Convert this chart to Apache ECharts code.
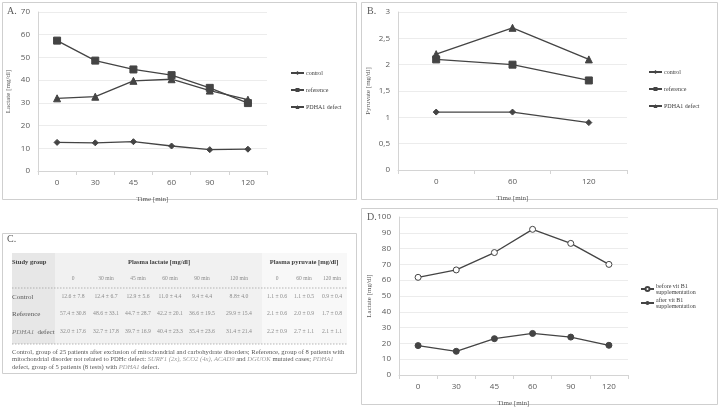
<!DOCTYPE html>
<html><head><meta charset="utf-8">
<script src="https://cdn.jsdelivr.net/npm/echarts@6/dist/echarts.min.js"></script>
<style>html,body{margin:0;padding:0;background:#fff}#c{width:720px;height:408px}</style>
</head><body><div id="c"></div>
<script>
// ---- data ----
var timesA = ['0','30','45','60','90','120'];
var lacControl = [12.6, 12.4, 12.9, 11.0, 9.4, 9.6];
var lacReference = [57.4, 48.6, 44.7, 42.2, 36.6, 29.9];
var lacPDHA1 = [32.0, 32.7, 39.7, 40.4, 35.4, 31.4];

var timesB = ['0','60','120'];
var pyrControl = [1.1, 1.1, 0.9];
var pyrReference = [2.1, 2.0, 1.7];
var pyrPDHA1 = [2.2, 2.7, 2.1];

var timesD = ['0','30','45','60','90','120'];
var lacBeforeB1 = [61.8, 66.5, 77.5, 92.2, 83.3, 70.0];
var lacAfterB1 = [18.6, 15.0, 23.0, 26.3, 24.0, 18.8];

var tableGroups = ['Control', 'Reference', 'PDHA1 defect'];
var tableLacCols = ['0', '30 min', '45 min', '60 min', '90 min', '120 min'];
var tablePyrCols = ['0', '60 min', '120 min'];
var tableControl = ['12.6 ± 7.8','12.4 ± 6.7','12.9 ± 5.6','11.0 ± 4.4','9.4 ± 4.4','8.8± 4.0','1.1 ± 0.6','1.1 ± 0.5','0.9 ± 0.4'];
var tableReference = ['57.4 ± 30.8','48.6 ± 33.1','44.7 ± 28.7','42.2 ± 20.1','36.6 ± 19.5','29.9 ± 15.4','2.1 ± 0.6','2.0 ± 0.9','1.7 ± 0.8'];
var tablePDHA1 = ['32.0 ± 17.6','32.7 ± 17.8','39.7 ± 16.9','40.4 ± 23.3','35.4 ± 23.6','31.4 ± 21.4','2.2 ± 0.9','2.7 ± 1.1','2.1 ± 1.1'];

// ---- styles ----
var SERIF = 'Liberation Serif';
var SANS = 'Open Sans';
var LINE = '#444444';
var GRID_LINE = '#ececec';
var AXIS_LINE = '#d4d4d4';

function xAxis(gi, cats) {
  return {
    type: 'category', gridIndex: gi, data: cats, boundaryGap: true,
    name: 'Time [min]', nameLocation: 'middle', nameGap: 25,
    nameTextStyle: {fontFamily: SERIF, fontSize: 7, color: '#595959'},
    axisLine: {lineStyle: {color: AXIS_LINE}},
    axisTick: {show: true, length: 4, lineStyle: {color: AXIS_LINE}},
    axisLabel: {fontFamily: SANS, fontSize: 8, color: '#595959', margin: 8}
  };
}
function yAxis(gi, max, interval, name, fmt) {
  return {
    type: 'value', gridIndex: gi, min: 0, max: max, interval: interval,
    name: name, nameLocation: 'middle', nameGap: 26, nameRotate: 90,
    nameTextStyle: {fontFamily: SERIF, fontSize: 7, color: '#595959'},
    axisLine: {show: true, lineStyle: {color: AXIS_LINE}},
    axisTick: {show: false},
    splitLine: {lineStyle: {color: GRID_LINE}},
    axisLabel: {fontFamily: SANS, fontSize: 8, color: '#595959', margin: 8, formatter: fmt}
  };
}
function line(name, gi, data, symbol, size, extra) {
  var s = {
    name: name, type: 'line', xAxisIndex: gi, yAxisIndex: gi, data: data,
    symbol: symbol, symbolSize: size, showSymbol: true,
    lineStyle: {color: LINE, width: 1.3},
    itemStyle: {color: LINE, borderColor: LINE},
    animation: false
  };
  if (extra) Object.assign(s, extra);
  return s;
}
function legend(names, left, top, gap) {
  return {
    data: names, orient: 'vertical', left: left, top: top, itemGap: gap,
    itemWidth: 13, itemHeight: 5, selectedMode: false,
    textStyle: {fontFamily: SERIF, fontSize: 6, color: '#404040', padding: [0,0,0,-3]},
    padding: 0
  };
}

// ---- table graphics ----
var graphics = [];
function box(x, y, w, h) {
  graphics.push({type: 'rect', shape: {x: x, y: y, width: w, height: h}, style: {fill: null, stroke: '#cfcfcf', lineWidth: 1}, z: 0});
}
function txt(x, y, s, opt) {
  var st = Object.assign({text: s, x: x, y: y, fontFamily: SERIF, fontSize: 6, fill: '#7f7f7f', align: 'center', verticalAlign: 'middle'}, opt || {});
  graphics.push({type: 'text', style: st, z: 5});
}
box(2.5, 2.5, 354, 197);
box(361.5, 2.5, 356, 197);
box(361.5, 208.5, 356, 196);
box(2.5, 233.5, 354, 140);
txt(7, 11, 'A.', {fontSize: 10, align: 'left', fill: '#595959'});
txt(367, 11, 'B.', {fontSize: 10, align: 'left', fill: '#595959'});
txt(367, 217, 'D.', {fontSize: 10, align: 'left', fill: '#595959'});
txt(7, 239, 'C.', {fontSize: 10, align: 'left', fill: '#595959'});

// table backgrounds
graphics.push({type: 'rect', shape: {x: 12, y: 253, width: 43, height: 91}, style: {fill: '#e7e7e7'}, z: 1});
graphics.push({type: 'rect', shape: {x: 55, y: 253, width: 207, height: 91}, style: {fill: '#f1f1f1'}, z: 1});
graphics.push({type: 'rect', shape: {x: 262, y: 253, width: 85, height: 91}, style: {fill: '#f8f8f8'}, z: 1});
graphics.push({type: 'line', shape: {x1: 12, y1: 288, x2: 347, y2: 288}, style: {stroke: '#9a9a9a', lineWidth: 0.7, lineDash: [1.5, 1.5]}, z: 3});
graphics.push({type: 'line', shape: {x1: 12, y1: 344, x2: 347, y2: 344}, style: {stroke: '#9a9a9a', lineWidth: 0.7, lineDash: [1.5, 1.5]}, z: 3});

var colX = [73, 106, 138, 170, 202, 239, 277, 304, 332];
txt(12, 262, 'Study group', {align: 'left', fontWeight: 'bold', fontSize: 6.5, fill: '#404040'});
txt(159, 262, 'Plasma lactate [mg/dl]', {fontWeight: 'bold', fontSize: 6.5, fill: '#404040'});
txt(304, 262, 'Plasma pyruvate [mg/dl]', {fontWeight: 'bold', fontSize: 6.5, fill: '#404040'});
var hdr = tableLacCols.concat(tablePyrCols);
hdr.forEach(function (h, i) { txt(colX[i], 279, h, {fontSize: 5.5, fill: '#8c8c8c'}); });
var rows = [tableControl, tableReference, tablePDHA1];
var rowY = [297, 314, 332];
rows.forEach(function (r, ri) {
  if (ri === 2) {
    graphics.push({type: 'text', z: 5, style: {x: 12, y: rowY[ri], verticalAlign: 'middle', align: 'left',
      text: '{i|PDHA1} {n|defect}',
      rich: {i: {fontFamily: SERIF, fontStyle: 'italic', fontSize: 7, fill: '#7f7f7f'}, n: {fontFamily: SERIF, fontSize: 7, fill: '#595959'}}}});
  } else {
    txt(12, rowY[ri], tableGroups[ri], {align: 'left', fontSize: 7, fill: '#595959'});
  }
  r.forEach(function (v, ci) { txt(colX[ci], rowY[ri], v, {fontSize: 5.7, fill: '#8c8c8c'}); });
});
var rich = {n: {fontFamily: SERIF, fontSize: 6.6, fill: '#595959'}, i: {fontFamily: SERIF, fontStyle: 'italic', fontSize: 6.6, fill: '#9a9a9a'}};
var notes = [
  '{n|Control, group of 25 patients after exclusion of mitochondrial and carbohydrate disorders; Reference, group of 8 patients with}',
  '{n|mitochondrial disorder not related to PDHc defect: }{i|SURF1 (2x), SCO2 (4x), ACAD9}{n| and }{i|DGUOK}{n| mutated cases; }{i|PDHA1}',
  '{n|defect, group of 5 patients (8 tests) with }{i|PDHA1}{n| defect.}'
];
var noteY = [352, 359.5, 367];
notes.forEach(function (t, i) {
  graphics.push({type: 'text', z: 5, style: {x: 12, y: noteY[i], verticalAlign: 'middle', align: 'left', text: t, rich: rich}});
});

var chart = echarts.init(document.getElementById('c'), null, {renderer: 'canvas'});
chart.setOption({
  animation: false,
  backgroundColor: '#ffffff',
  grid: [
    {left: 38, top: 12, width: 229, height: 159},
    {left: 398, top: 12, width: 229, height: 158},
    {left: 399, top: 217, width: 229, height: 160}
  ],
  xAxis: [xAxis(0, timesA), xAxis(1, timesB), xAxis(2, timesD)],
  yAxis: [
    yAxis(0, 70, 10, 'Lactate [mg/dl]'),
    yAxis(1, 3, 0.5, 'Pyruvate [mg/dl]', function (v) { return String(v).replace('.', ','); }),
    yAxis(2, 100, 10, 'Lactate [mg/dl]')
  ],
  legend: [
    legend(['control', 'reference', 'PDHA1 defect'], 290, 70, 11),
    legend(['control ', 'reference ', 'PDHA1 defect '], 648, 69, 11),
    legend(['before vit B1\nsupplementation', 'after vit B1\nsupplementation'], 640, 283, 2)
  ],
  series: [
    line('control', 0, lacControl, 'diamond', 6),
    line('reference', 0, lacReference, 'rect', 7),
    line('PDHA1 defect', 0, lacPDHA1, 'triangle', 7),
    line('control ', 1, pyrControl, 'diamond', 6),
    line('reference ', 1, pyrReference, 'rect', 7),
    line('PDHA1 defect ', 1, pyrPDHA1, 'triangle', 7),
    line('before vit B1\nsupplementation', 2, lacBeforeB1, 'circle', 6, {itemStyle: {color: '#ffffff', borderColor: LINE, borderWidth: 1}}),
    line('after vit B1\nsupplementation', 2, lacAfterB1, 'circle', 6)
  ],
  graphic: graphics
});
</script>
</body></html>
